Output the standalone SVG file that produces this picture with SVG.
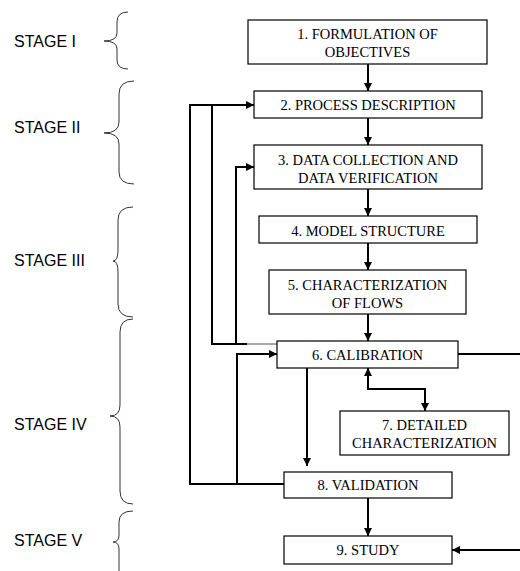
<svg xmlns="http://www.w3.org/2000/svg" width="520" height="571" viewBox="0 0 520 571">
<defs>
<style>
.box{fill:#fff;stroke:#000;stroke-width:1.2}
.t{font-family:"Liberation Serif","Times New Roman",serif;font-size:14.5px;fill:#000;text-anchor:middle}
.st{font-family:"Liberation Sans",Arial,sans-serif;font-size:16px;fill:#000}
.br{fill:none;stroke:#333;stroke-width:1}
.c{fill:none;stroke:#000;stroke-width:2}
</style>
<marker id="ah" markerUnits="userSpaceOnUse" markerWidth="8" markerHeight="8" refX="8" refY="4" orient="auto-start-reverse" viewBox="0 0 8 8">
<path d="M0,0 L8,4 L0,8 z" fill="#000"/>
</marker>
</defs>
<rect width="520" height="571" fill="#fff"/>
<g id="stages">
<text class="st" x="14" y="47">STAGE I</text>
<path class="br" d="M128,12 Q117,12 117,22 L117,33 Q117,41 104,41 Q117,41 117,49 L117,60 Q117,69 128,69"/>
<text class="st" x="14" y="133">STAGE II</text>
<path class="br" d="M134,81 Q119,81 119,94 L119,122 Q119,133 104,133 Q119,133 119,144 L119,172 Q119,184 134,184"/>
<text class="st" x="14" y="266">STAGE III</text>
<path class="br" d="M133,207 Q118,207 118,220 L118,250 Q118,261 113,261 Q118,261 118,272 L118,304 Q118,317 133,317"/>
<text class="st" x="14" y="430">STAGE IV</text>
<path class="br" d="M133,319 Q120,319 120,332 L120,405 Q120,416 110,416 Q120,416 120,427 L120,491 Q120,504 133,504"/>
<text class="st" x="14" y="546">STAGE V</text>
<path class="br" d="M133,511 Q119,511 119,522 L119,535 Q119,542 113,542 Q119,542 119,549 L119,571"/>
</g>
<g id="connectors">
<path class="c" d="M368,64 V91" marker-end="url(#ah)"/>
<path class="c" d="M368,118 V145" marker-end="url(#ah)"/>
<path class="c" d="M368,189 V216" marker-end="url(#ah)"/>
<path class="c" d="M368,243 V270" marker-end="url(#ah)"/>
<path class="c" d="M368,314 V341" marker-end="url(#ah)"/>
<path class="c" d="M247,344 H212 V105 H254" marker-end="url(#ah)"/>
<path d="M247,344 H277" stroke="#888" stroke-width="1.5"/>
<path class="c" d="M236,344 V167 H254" marker-end="url(#ah)"/>
<path class="c" d="M284,484 H190 V105 H212"/>
<path class="c" d="M237,484 V354 H277" marker-end="url(#ah)"/>
<path class="c" d="M307,368 V466" marker-end="url(#ah)"/>
<path class="c" d="M368,368 V389 H425 V411" marker-start="url(#ah)" marker-end="url(#ah)"/>
<path class="c" d="M458,354 H520"/>
<path class="c" d="M368,498 V536" marker-end="url(#ah)"/>
<path class="c" d="M520,550 H452" marker-end="url(#ah)"/>
</g>
<g id="n1"><rect class="box" x="248" y="20" width="239" height="44"/><text class="t" x="367.5" y="39">1. FORMULATION OF</text><text class="t" x="367.5" y="57">OBJECTIVES</text></g>
<g id="n2"><rect class="box" x="254" y="91" width="228" height="27"/><text class="t" x="368" y="110">2. PROCESS DESCRIPTION</text></g>
<g id="n3"><rect class="box" x="254" y="145" width="228" height="44"/><text class="t" x="368" y="165">3. DATA COLLECTION AND</text><text class="t" x="368" y="183">DATA VERIFICATION</text></g>
<g id="n4"><rect class="box" x="259" y="216" width="218" height="27"/><text class="t" x="368" y="236">4. MODEL STRUCTURE</text></g>
<g id="n5"><rect class="box" x="269" y="270" width="197" height="44"/><text class="t" x="367.5" y="290">5. CHARACTERIZATION</text><text class="t" x="367.5" y="308">OF FLOWS</text></g>
<g id="n6"><rect class="box" x="277" y="341" width="181" height="27"/><text class="t" x="367.5" y="360">6. CALIBRATION</text></g>
<g id="n7"><rect class="box" x="340" y="411" width="169" height="44"/><text class="t" x="424.5" y="430">7. DETAILED</text><text class="t" x="424.5" y="448">CHARACTERIZATION</text></g>
<g id="n8"><rect class="box" x="284" y="472" width="168" height="26"/><text class="t" x="368" y="490">8. VALIDATION</text></g>
<g id="n9"><rect class="box" x="284" y="536" width="168" height="28"/><text class="t" x="368" y="555">9. STUDY</text></g>
</svg>
